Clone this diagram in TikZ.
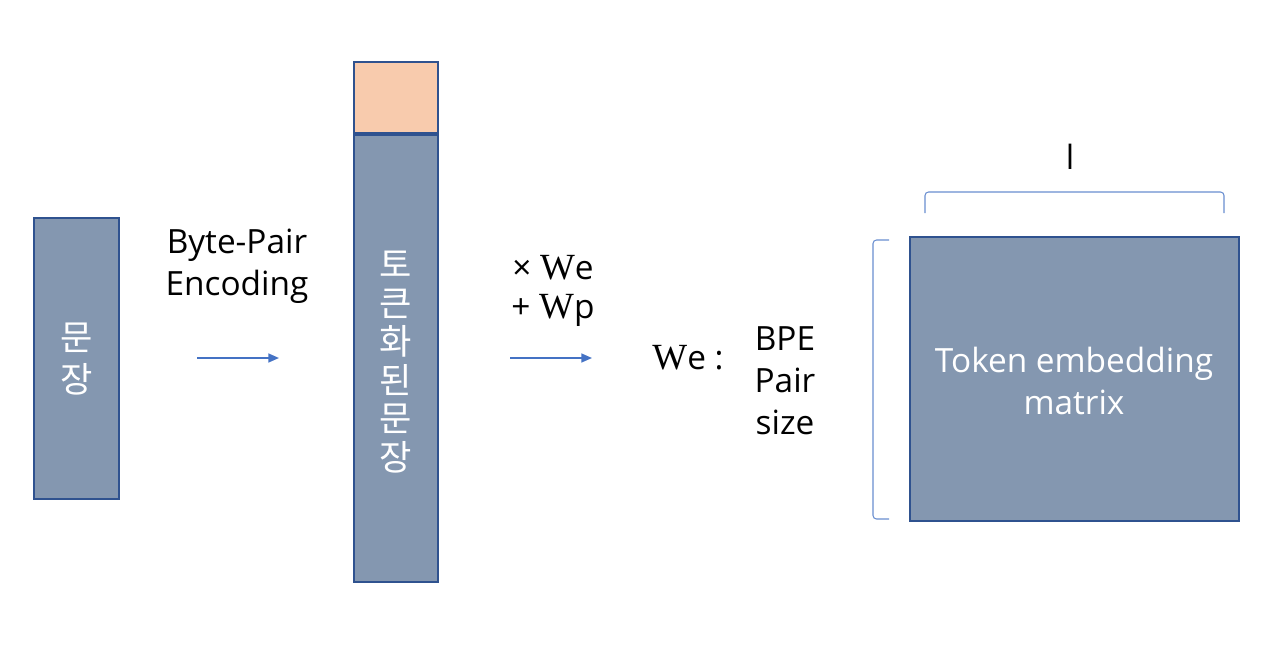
\documentclass[tikz,border=0pt]{standalone}
\usepackage{fontspec}
\setmainfont{Open Sans}
\newfontfamily\kofont{Noto Sans CJK KR}
\newfontfamily\wfont{Liberation Serif}
\usetikzlibrary{arrows.meta, positioning}
\definecolor{boxFill}{HTML}{8497B0}
\definecolor{boxLine}{HTML}{2F528F}
\definecolor{tokTop}{HTML}{F8CBAD}
\definecolor{arrBlue}{HTML}{4472C4}
\newcommand{\txtsize}{\fontsize{19}{23.8}\selectfont}
\newcommand{\bigW}{{\wfont\fontsize{21}{24}\selectfont W}}

\begin{document}
\begin{tikzpicture}[x=0.02cm, y=-0.02cm, >=Stealth,
    mbox/.style={draw=boxLine, fill=boxFill, line width=1.2pt},
    step arrow/.style={arrBlue, line width=1pt, -{Triangle[length=6pt, width=5pt]}},
    brk/.style={arrBlue!80, line width=0.6pt, rounded corners=2pt},
    lbl/.style={font=\txtsize, align=center, inner sep=0pt},
    vtxt/.style={font=\kofont\fontsize{20}{23.5}\selectfont, text=white, align=center, inner sep=0pt}]
  \useasboundingbox (0,0) rectangle (1280,655);
  % sentence
  \draw[mbox] (34,218) rectangle (119,499);
  \node[vtxt] (sent) at (76.5,359) {문\\장};
  \node[lbl] (bpe) at (237,266) {Byte-Pair\\Encoding};
  % tokenized sentence
  \draw[mbox, fill=tokTop] (354,62) rectangle (438,133);
  \draw[mbox] (354,135) rectangle (438,582);
  \node[vtxt, font=\kofont\fontsize{20}{21.9}\selectfont] (tok) at (396,362) {토\\큰\\화\\된\\문\\장};
  % arrows
  \coordinate (a1s) at (197,358);
  \coordinate (a1e) at (279,358);
  \coordinate (a2s) at (510,358);
  \coordinate (a2e) at (592,358);
  \draw[step arrow] (a1s) -- (a1e);
  \draw[step arrow] (a2s) -- (a2e);
  \node[lbl] (mulW) at (553,268) {× \bigW e};
  \node[lbl] (addW) at (553,310) {+ \bigW p};
  % embedding size
  \node[lbl] (we) at (688,358) {\bigW e :};
  \node[lbl] (sz) at (785,381) {BPE\\Pair\\size};
  % embedding matrix
  \draw[mbox] (910,237) rectangle (1239,521);
  \node[lbl, text=white] (emb) at (1074,381) {Token embedding\\matrix};
  \draw[brk] (889,240) -- (873,240) -- (873,519) -- (889,519);
  \draw[brk] (925,213) -- (925,192) -- (1224,192) -- (1224,213);
  \node[lbl] (len) at (1070,157) {l};
\end{tikzpicture}
\end{document}
